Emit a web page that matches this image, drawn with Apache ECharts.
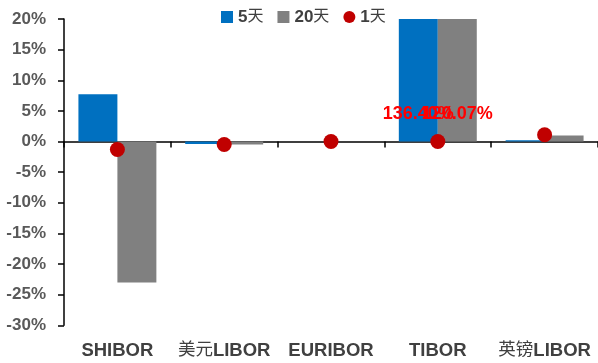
<!DOCTYPE html>
<html>
<head>
<meta charset="utf-8">
<script src="https://cdn.jsdelivr.net/npm/echarts@6/dist/echarts.min.js"></script>
<style>
  html, body { margin: 0; padding: 0; background: #fff; }
  #chart { width: 598px; height: 363px; }
</style>
</head>
<body>
<div id="chart"></div>
<script>
// Interbank rate changes by horizon (%)
const categories = ['SHIBOR', '美元LIBOR', 'EURIBOR', 'TIBOR', '英镑LIBOR'];
const change5d  = [7.7, -0.4, 0.0, 136.40, 0.2];
const change20d = [-23.0, -0.5, 0.0, 120.07, 1.0];
const change1d  = [-1.3, -0.5, 0.0, 0.0, 1.1];
const yTicks = { min: -30, max: 20, interval: 5 };
// Categories whose bars run past the axis top get their value printed
const labelledCategories = ['TIBOR'];

const FONT = '"Liberation Sans", Arial, "Noto Sans CJK SC", sans-serif';
const CJK_FONT = '"Noto Sans CJK SC", sans-serif';

function barData(values) {
  return values.map((v, i) => {
    if (labelledCategories.includes(categories[i])) {
      return {
        value: v,
        label: {
          show: true,
          position: 'insideBottom',
          distance: 18,
          formatter: p => p.value.toFixed(2) + '%',
          color: '#FF0000',
          fontSize: 18,
          fontWeight: 'bold',
          fontFamily: FONT
        }
      };
    }
    return v;
  });
}

// Split a label into CJK and Latin runs so each run gets its own font
function richCategory(text) {
  return text
    .replace(/([\u4e00-\u9fff]+)/g, '\u0000$1\u0001')
    .split(/(\u0000[^\u0001]*\u0001)/)
    .filter(s => s.length)
    .map(s => s[0] === '\u0000' ? '{cjk|' + s.slice(1, -1) + '}' : '{lat|' + s + '}')
    .join('');
}

function richStyles(latSize, cjkSize, color, lift) {
  return {
    lat: { fontFamily: FONT, fontWeight: 'bold', fontSize: latSize, color: color, lineHeight: 22, verticalAlign: 'middle' },
    cjk: { fontFamily: CJK_FONT, fontWeight: 'normal', fontSize: cjkSize, color: color, lineHeight: 22, verticalAlign: 'middle', padding: [0, 0, lift, 0] }
  };
}

const chart = echarts.init(document.getElementById('chart'), null, { renderer: 'canvas' });

chart.setOption({
  animation: false,
  backgroundColor: '#ffffff',
  textStyle: { fontFamily: FONT },
  legend: {
    top: 2,
    left: 216,
    itemWidth: 12,
    itemHeight: 12,
    itemGap: 14,
    textStyle: {
      color: '#404040', fontSize: 17, fontWeight: 'bold', fontFamily: FONT,
      rich: richStyles(17, 16, '#404040', 4)
    },
    formatter: name => richCategory(name),
    data: [
      { name: '5天', icon: 'rect' },
      { name: '20天', icon: 'rect' },
      { name: '1天', icon: 'circle' }
    ]
  },
  grid: { left: 64, right: -3, top: 19, bottom: 37 },
  xAxis: [
    {
      type: 'category',
      data: categories,
      position: 'bottom',
      axisLine: { show: false, onZero: false },
      axisTick: { show: false },
      axisLabel: {
        margin: 15,
        color: '#404040',
        fontSize: 18.5,
        fontWeight: 'bold',
        fontFamily: FONT,
        interval: 0,
        formatter: v => richCategory(v),
        rich: richStyles(18.5, 17.5, '#404040', 6)
      }
    },
    {
      type: 'category',
      data: categories,
      position: 'bottom',
      axisLine: { show: true, onZero: true, lineStyle: { color: '#000', width: 1.5 } },
      axisTick: { show: true, inside: false, length: 6, lineStyle: { color: '#000', width: 1.5 } },
      axisLabel: { show: false }
    }
  ],
  yAxis: {
    type: 'value',
    min: yTicks.min,
    max: yTicks.max,
    interval: yTicks.interval,
    axisLine: { show: true, lineStyle: { color: '#000', width: 1.5 } },
    axisTick: { show: true, inside: false, length: 6, lineStyle: { color: '#000', width: 1.5 } },
    splitLine: { show: false },
    axisLabel: {
      margin: 18,
      color: '#595959',
      fontSize: 17,
      fontWeight: 'bold',
      fontFamily: FONT,
      formatter: v => v + '%'
    }
  },
  series: [
    {
      name: '5天',
      type: 'bar',
      xAxisIndex: 0,
      data: barData(change5d),
      barWidth: '36.5%',
      barGap: '0%',
      itemStyle: { color: '#0070C0' }
    },
    {
      name: '20天',
      type: 'bar',
      xAxisIndex: 0,
      data: barData(change20d),
      barWidth: '36.5%',
      barGap: '0%',
      itemStyle: { color: '#808080' }
    },
    {
      name: '1天',
      type: 'scatter',
      xAxisIndex: 0,
      data: change1d,
      symbol: 'circle',
      symbolSize: 15,
      itemStyle: { color: '#C00000', opacity: 1 },
      z: 5
    }
  ]
});
</script>
</body>
</html>
